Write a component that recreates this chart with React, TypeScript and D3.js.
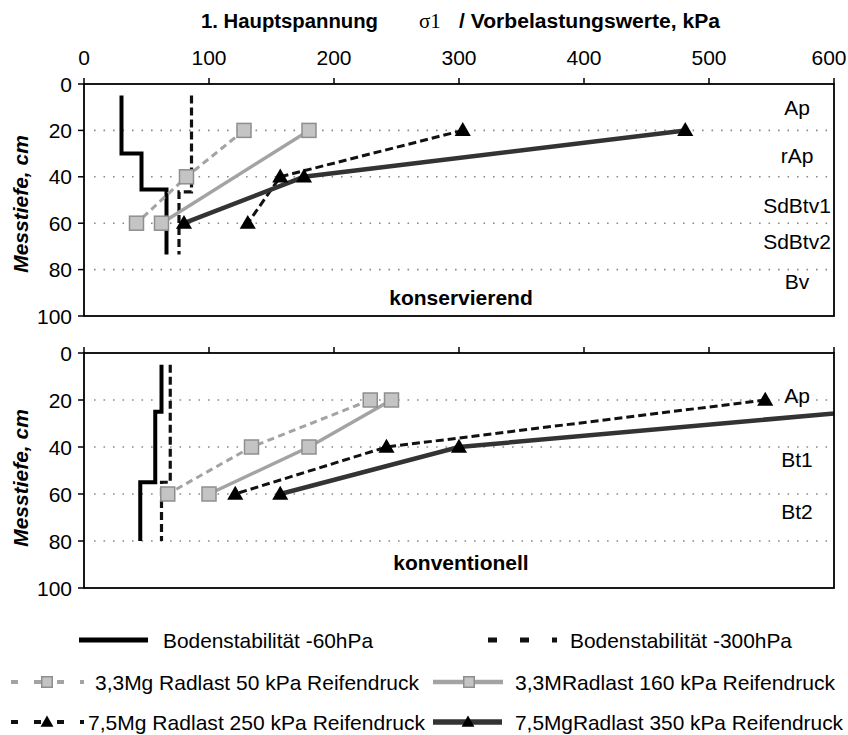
import React from 'react';
import * as d3 from 'd3';

// ---------- data ----------
const xTicks = [0, 100, 200, 300, 400, 500, 600];
const yTicks = [0, 20, 40, 60, 80, 100];
const gridDepths = [20, 40, 60, 80];

// konservierend
const konsStab60Depth = [5, 30, 30, 45.5, 45.5, 73.5];
const konsStab60Val = [30, 30, 46, 46, 66, 66];
const konsStab300Depth = [5, 46.5, 46.5, 73.5];
const konsStab300Val = [86, 86, 76, 76];
const kons50Depth = [20, 40, 60];
const kons50Val = [128, 82, 42];
const kons160Depth = [20, 60];
const kons160Val = [180, 62];
const kons250Depth = [20, 40, 60];
const kons250Val = [303, 157, 131];
const kons350Depth = [20, 40, 60];
const kons350Val = [481, 176, 80];
const konsHorizons = ['Ap', 'rAp', 'SdBtv1', 'SdBtv2', 'Bv'];
const konsHorizonDepth = [10, 31, 52.5, 68, 85];

// konventionell
const konvStab60Depth = [5, 25, 25, 55, 55, 80];
const konvStab60Val = [62, 62, 57, 57, 45, 45];
const konvStab300Depth = [5, 55, 55, 80];
const konvStab300Val = [69, 69, 62, 62];
const konv50Depth = [20, 40, 60];
const konv50Val = [229, 134, 67];
const konv160Depth = [20, 40, 60];
const konv160Val = [246, 180, 100];
const konv250Depth = [20, 40, 60];
const konv250Val = [545, 242, 121];
const konv350Depth = [20, 40, 60];
const konv350Val = [720, 300, 157];
const konvHorizons = ['Ap', 'Bt1', 'Bt2'];
const konvHorizonDepth = [18, 45.5, 67.5];

const legendLabels = [
  'Bodenstabilität -60hPa',
  'Bodenstabilität -300hPa',
  '3,3Mg Radlast 50 kPa Reifendruck',
  '3,3MRadlast 160 kPa Reifendruck',
  '7,5Mg Radlast 250 kPa Reifendruck',
  '7,5MgRadlast 350 kPa Reifendruck',
];

// ---------- styles ----------
const FONT = 'Arial, "Liberation Sans", Helvetica, sans-serif';
const GRAY = '#a3a3a3';
const SQ_FILL = '#c4c4c4';
const SQ_STROKE = '#8e8e8e';
const DARK = '#333333';

type Style = {
  stroke: string;
  width: number;
  dash?: string;
  marker?: 'square' | 'triangle';
};

const sStab60: Style = { stroke: '#000', width: 4 };
const sStab300: Style = { stroke: '#111', width: 3.2, dash: '8,4' };
const s50: Style = { stroke: GRAY, width: 3, dash: '7,4.5', marker: 'square' };
const s160: Style = { stroke: GRAY, width: 3.5, marker: 'square' };
const s250: Style = { stroke: '#111', width: 3, dash: '8,4', marker: 'triangle' };
const s350: Style = { stroke: DARK, width: 4.5, marker: 'triangle' };

const x = d3.scaleLinear().domain([0, 600]).range([84, 834]);

type Series = { depth: number[]; val: number[]; style: Style };

function Marker({ cx, cy, kind, size }: { cx: number; cy: number; kind: 'square' | 'triangle'; size: number }) {
  if (kind === 'square') {
    return (
      <rect
        x={cx - size / 2}
        y={cy - size / 2}
        width={size}
        height={size}
        fill={SQ_FILL}
        stroke={SQ_STROKE}
        strokeWidth={1.5}
      />
    );
  }
  const path = d3.symbol().type(d3.symbolTriangle).size(size * size * 0.5)();
  return <path d={path || ''} transform={`translate(${cx},${cy + 1})`} fill="#000" />;
}

function Panel({
  id,
  top,
  bottom,
  series,
  horizons,
  horizonDepth,
  title,
  titleDepth,
  showXLabels,
  yTitleCenter,
}: {
  id: string;
  top: number;
  bottom: number;
  series: Series[];
  horizons: string[];
  horizonDepth: number[];
  title: string;
  titleDepth: number;
  showXLabels: boolean;
  yTitleCenter: number;
}) {
  const y = d3.scaleLinear().domain([0, 100]).range([top, bottom]);
  const [x0, x1] = x.range();
  const line = d3
    .line<[number, number]>()
    .x((d) => x(d[0]))
    .y((d) => y(d[1]));
  return (
    <g>
      <defs>
        <clipPath id={`clip-${id}`}>
          <rect x={x0} y={top} width={x1 - x0} height={bottom - top} />
        </clipPath>
      </defs>
      {/* grid */}
      {gridDepths.map((d) => (
        <line
          key={d}
          x1={x0 + 10}
          x2={x1}
          y1={y(d)}
          y2={y(d)}
          stroke="#8a8a8a"
          strokeWidth={1.6}
          strokeDasharray="1.6,7.9"
        />
      ))}
      {/* series */}
      <g clipPath={`url(#clip-${id})`}>
        {series.map((s, i) => {
          const pts = s.val.map((v, j) => [v, s.depth[j]] as [number, number]);
          return (
            <path
              key={i}
              d={line(pts) || ''}
              fill="none"
              stroke={s.style.stroke}
              strokeWidth={s.style.width}
              strokeDasharray={s.style.dash}
              strokeLinejoin="miter"
            />
          );
        })}
        {series.map((s, i) =>
          s.style.marker
            ? s.val.map((v, j) => (
                <Marker key={`${i}-${j}`} cx={x(v)} cy={y(s.depth[j])} kind={s.style.marker!} size={s.style.marker === 'square' ? 14 : 15} />
              ))
            : null
        )}
      </g>
      {/* frame */}
      <rect x={x0} y={top} width={x1 - x0} height={bottom - top} fill="none" stroke="#000" strokeWidth={1.8} />
      {/* x ticks (top) */}
      {xTicks.map((t, i) => (
        <g key={t}>
          <line x1={x(t)} x2={x(t)} y1={top - 6} y2={top} stroke="#000" strokeWidth={1.5} />
          {showXLabels && (
            <text
              x={i === xTicks.length - 1 ? x(t) - 5 : x(t)}
              y={top - 19}
              textAnchor="middle"
              fontFamily={FONT}
              fontSize={21}
              fill="#000"
            >
              {t}
            </text>
          )}
        </g>
      ))}
      {/* y ticks */}
      {yTicks.map((t) => (
        <g key={t}>
          <line x1={x0 - 6} x2={x0} y1={y(t)} y2={y(t)} stroke="#000" strokeWidth={1.5} />
          <text x={72} y={y(t) + 7.5} textAnchor="end" fontFamily={FONT} fontSize={21} fill="#000">
            {t}
          </text>
        </g>
      ))}
      {/* y title */}
      <text
        transform={`translate(28,${yTitleCenter}) rotate(-90)`}
        textAnchor="middle"
        fontFamily={FONT}
        fontSize={21}
        fontWeight="bold"
        fontStyle="italic"
        fill="#000"
      >
        Messtiefe, cm
      </text>
      {/* horizons */}
      {horizons.map((h, i) => (
        <text key={h} x={797} y={y(horizonDepth[i]) + 7.5} textAnchor="middle" fontFamily={FONT} fontSize={21} fill="#000">
          {h}
        </text>
      ))}
      <text x={461} y={y(titleDepth) + 7.5} textAnchor="middle" fontFamily={FONT} fontSize={21} fontWeight="bold" fill="#000">
        {title}
      </text>
    </g>
  );
}

function LegendSymbol({ x1, x2, cy, style, markerX }: { x1: number; x2: number; cy: number; style: Style; markerX?: number }) {
  return (
    <g>
      <line x1={x1} x2={x2} y1={cy} y2={cy} stroke={style.stroke} strokeWidth={style.width + 1} strokeDasharray={style.dash ? (style.marker ? '7,16' : '9,23') : undefined} />
      {style.marker && markerX !== undefined && (
        <Marker cx={markerX} cy={cy} kind={style.marker} size={style.marker === 'square' ? 10.5 : 12} />
      )}
    </g>
  );
}

export default function App() {
  const kons: Series[] = [
    { depth: konsStab60Depth, val: konsStab60Val, style: sStab60 },
    { depth: konsStab300Depth, val: konsStab300Val, style: sStab300 },
    { depth: kons50Depth, val: kons50Val, style: s50 },
    { depth: kons160Depth, val: kons160Val, style: s160 },
    { depth: kons250Depth, val: kons250Val, style: s250 },
    { depth: kons350Depth, val: kons350Val, style: s350 },
  ];
  const konv: Series[] = [
    { depth: konvStab60Depth, val: konvStab60Val, style: sStab60 },
    { depth: konvStab300Depth, val: konvStab300Val, style: sStab300 },
    { depth: konv50Depth, val: konv50Val, style: s50 },
    { depth: konv160Depth, val: konv160Val, style: s160 },
    { depth: konv250Depth, val: konv250Val, style: s250 },
    { depth: konv350Depth, val: konv350Val, style: s350 },
  ];
  const rows = [640, 682, 722];
  return (
    <svg
      width={848}
      height={735}
      style={{ position: 'absolute', left: 0, top: 0, background: '#fff' }}
      xmlns="http://www.w3.org/2000/svg"
    >
      <rect width={848} height={735} fill="#fff" />
      {/* main title */}
      <text y={28} fontFamily={FONT} fontSize={20} fontWeight="bold" fill="#000">
        <tspan x={201} textLength={177} lengthAdjust="spacingAndGlyphs">1. Hauptspannung</tspan>
      </text>
      <text x={419} y={28} fontFamily='"Liberation Serif", "Times New Roman", serif' fontSize={21} fill="#000">
        σ1
      </text>
      <text y={28} fontFamily={FONT} fontSize={20} fontWeight="bold" fill="#000">
        <tspan x={459} textLength={261} lengthAdjust="spacingAndGlyphs">/ Vorbelastungswerte, kPa</tspan>
      </text>

      <Panel
        id="kons"
        top={84}
        bottom={316}
        series={kons}
        horizons={konsHorizons}
        horizonDepth={konsHorizonDepth}
        title="konservierend"
        titleDepth={92}
        showXLabels={true}
        yTitleCenter={204}
      />
      <Panel
        id="konv"
        top={353}
        bottom={588}
        series={konv}
        horizons={konvHorizons}
        horizonDepth={konvHorizonDepth}
        title="konventionell"
        titleDepth={89}
        showXLabels={false}
        yTitleCenter={478}
      />

      {/* legend */}
      <LegendSymbol x1={79} x2={148} cy={rows[0]} style={sStab60} />
      <text x={163} y={rows[0] + 7.5} fontFamily={FONT} fontSize={21} textLength={210} lengthAdjust="spacingAndGlyphs">
        {legendLabels[0]}
      </text>
      <LegendSymbol x1={488} x2={557} cy={rows[0]} style={{ ...sStab300, width: 4 }} />
      <text x={570} y={rows[0] + 7.5} fontFamily={FONT} fontSize={21} textLength={222} lengthAdjust="spacingAndGlyphs">
        {legendLabels[1]}
      </text>

      <LegendSymbol x1={11} x2={84} cy={rows[1]} style={s50} markerX={47} />
      <text x={95} y={rows[1] + 7.5} fontFamily={FONT} fontSize={21} textLength={324} lengthAdjust="spacingAndGlyphs">
        {legendLabels[2]}
      </text>
      <LegendSymbol x1={433} x2={503} cy={rows[1]} style={s160} markerX={469} />
      <text x={515} y={rows[1] + 7.5} fontFamily={FONT} fontSize={21} textLength={320} lengthAdjust="spacingAndGlyphs">
        {legendLabels[3]}
      </text>

      <LegendSymbol x1={11} x2={84} cy={rows[2]} style={s250} markerX={47} />
      <text x={88} y={rows[2] + 7.5} fontFamily={FONT} fontSize={21} textLength={337} lengthAdjust="spacingAndGlyphs">
        {legendLabels[4]}
      </text>
      <LegendSymbol x1={433} x2={502} cy={rows[2]} style={s350} markerX={468} />
      <text x={515} y={rows[2] + 7.5} fontFamily={FONT} fontSize={21} textLength={328} lengthAdjust="spacingAndGlyphs">
        {legendLabels[5]}
      </text>
    </svg>
  );
}
